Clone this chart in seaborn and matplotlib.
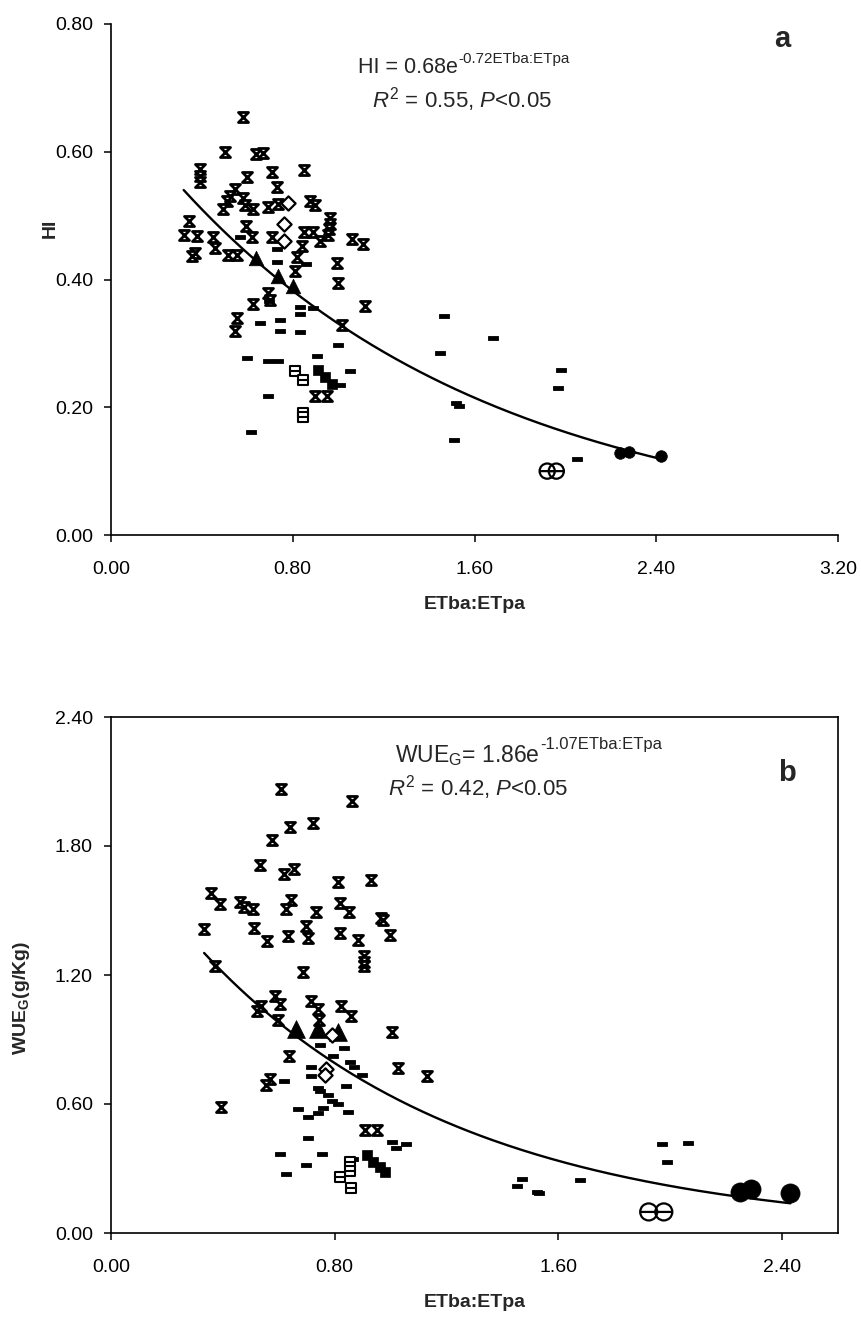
import numpy as np
import matplotlib
matplotlib.use("Agg")
import matplotlib.pyplot as plt
from matplotlib.path import Path
import matplotlib.transforms as mtransforms
import seaborn as sns

sns.set_style("ticks")
plt.rcParams['font.family'] = ['Liberation Sans', 'DejaVu Sans']
plt.rcParams['mathtext.fontset'] = 'custom'
plt.rcParams['mathtext.rm'] = 'Liberation Sans'
plt.rcParams['mathtext.it'] = 'Liberation Sans:italic'
plt.rcParams['mathtext.bf'] = 'Liberation Sans:bold'

# ---------------- Panel a data (ETba:ETpa vs HI) ----------------
a_x_x = [0.58, 0.50, 0.64, 0.67, 0.39, 0.39, 0.39, 0.60, 0.71, 0.85, 0.73,
         0.546, 0.524, 0.51, 0.495, 0.583, 0.59, 0.627, 0.69, 0.737, 0.874, 0.90,
         0.965, 0.965, 0.96, 0.957, 0.593, 0.345, 0.32, 0.377, 0.45, 0.458,
         0.37, 0.355, 0.517, 0.556, 0.62, 0.708, 0.85, 0.89, 0.92, 0.84,
         1.06, 1.11, 0.994, 1.00, 1.12, 0.627, 0.69, 0.70, 0.81, 0.818,
         1.016, 0.554, 0.546, 0.90, 0.95]
a_x_y = [0.654, 0.60, 0.597, 0.598, 0.573, 0.562, 0.552, 0.56, 0.569, 0.571, 0.545,
         0.542, 0.531, 0.523, 0.51, 0.528, 0.517, 0.51, 0.513, 0.518, 0.523, 0.516,
         0.497, 0.487, 0.479, 0.469, 0.483, 0.491, 0.47, 0.468, 0.467, 0.45,
         0.441, 0.4375, 0.439, 0.439, 0.466, 0.466, 0.474, 0.474, 0.461, 0.453,
         0.464, 0.456, 0.426, 0.394, 0.359, 0.361, 0.379, 0.368, 0.413, 0.435,
         0.328, 0.339, 0.32, 0.217, 0.217]
a_dash_x = [0.568, 0.73, 0.86, 0.73, 0.656, 0.744, 0.744, 0.833, 0.833, 0.89, 0.833, 0.697,
            0.997, 1.464, 1.45, 0.906, 0.598, 0.693, 0.737, 1.05, 1.01, 0.689, 0.617,
            1.68, 1.98, 1.966, 1.52, 1.53, 1.51, 2.05]
a_dash_y = [0.467, 0.448, 0.425, 0.428, 0.332, 0.336, 0.319, 0.318, 0.346, 0.356, 0.357, 0.366,
            0.297, 0.343, 0.285, 0.28, 0.277, 0.272, 0.272, 0.257, 0.235, 0.217, 0.161,
            0.308, 0.259, 0.23, 0.206, 0.202, 0.148, 0.119]
a_tri_x = [0.64, 0.735, 0.80]
a_tri_y = [0.433, 0.405, 0.39]
a_dia_x = [0.78, 0.76, 0.76]
a_dia_y = [0.52, 0.487, 0.46]
a_osq_x = [0.81, 0.844, 0.844, 0.844]
a_osq_y = [0.257, 0.242, 0.191, 0.184]
a_fsq_x = [0.91, 0.943, 0.972]
a_fsq_y = [0.259, 0.248, 0.237]
a_ocir_x = [1.92, 1.96]
a_ocir_y = [0.10, 0.10]
a_fcir_x = [2.24, 2.28, 2.42]
a_fcir_y = [0.128, 0.13, 0.123]
a_fit = (0.68, -0.72, 0.32, 2.43)   # coef, exponent, x-start, x-end

# ---------------- Panel b data (ETba:ETpa vs WUE_G) ----------------
b_x_x = [0.609, 0.863, 0.639, 0.723, 0.577, 0.532, 0.618, 0.653, 0.812, 0.929,
         0.358, 0.391, 0.462, 0.476, 0.508, 0.645, 0.627, 0.732, 0.818, 0.851,
         0.965, 0.974, 0.998, 0.331, 0.51, 0.558, 0.633, 0.699, 0.703, 0.818, 0.882,
         0.904, 0.904, 0.904, 0.373, 0.686,
         0.585, 0.603, 0.523, 0.538, 0.714, 0.741, 0.824, 0.858, 0.597, 0.743,
         1.004, 1.025, 1.129, 0.637, 0.567, 0.556, 0.394, 0.91, 0.953]
b_x_y = [2.064, 2.009, 1.888, 1.907, 1.829, 1.71, 1.671, 1.692, 1.633, 1.64,
         1.583, 1.532, 1.54, 1.516, 1.509, 1.547, 1.506, 1.493, 1.535, 1.493,
         1.467, 1.454, 1.385, 1.415, 1.42, 1.358, 1.383, 1.427, 1.374, 1.395, 1.361,
         1.288, 1.26, 1.242, 1.242, 1.214,
         1.101, 1.067, 1.031, 1.054, 1.079, 1.043, 1.056, 1.008, 0.992, 0.99,
         0.935, 0.769, 0.73, 0.822, 0.718, 0.687, 0.586, 0.48, 0.478]
b_dash_x = [0.747, 0.834, 0.794, 0.714, 0.714, 0.854, 0.87, 0.898, 0.84, 0.741, 0.747,
            0.777, 0.789, 0.812, 0.759, 0.741, 0.667, 0.705, 0.846, 0.705, 0.603, 0.753,
            0.699, 0.627, 1.004, 1.054, 1.018, 0.866, 0.619,
            1.47, 1.452, 1.523, 1.53, 1.679, 1.971, 2.063, 1.987]
b_dash_y = [0.873, 0.862, 0.822, 0.772, 0.729, 0.795, 0.772, 0.733, 0.682, 0.676, 0.66,
            0.641, 0.614, 0.601, 0.583, 0.558, 0.577, 0.54, 0.563, 0.443, 0.366, 0.366,
            0.315, 0.273, 0.423, 0.415, 0.397, 0.346, 0.707,
            0.253, 0.217, 0.191, 0.186, 0.245, 0.415, 0.419, 0.33]
b_tri_x = [0.663, 0.741, 0.812]
b_tri_y = [0.95, 0.95, 0.935]
b_dia_x = [0.789, 0.77, 0.765]
b_dia_y = [0.92, 0.764, 0.735]
b_osq_x = [0.854, 0.854, 0.818, 0.858]
b_osq_y = [0.33, 0.29, 0.26, 0.21]
b_fsq_x = [0.914, 0.938, 0.962, 0.98]
b_fsq_y = [0.361, 0.33, 0.307, 0.284]
b_ocir_x = [1.923, 1.977]
b_ocir_y = [0.098, 0.098]
b_fcir_x = [2.248, 2.288, 2.428]
b_fcir_y = [0.19, 0.206, 0.186]
b_fit = (1.86, -1.07, 0.333, 2.43)

# ---------------- custom marker shapes ----------------
M, L, C = Path.MOVETO, Path.LINETO, Path.CLOSEPOLY
hourglass = Path([(-1, 1), (1, 1), (-1, -1), (1, -1), (-1, 1)], [M, L, L, L, C])
dash = Path([(-1, -0.34), (1, -0.34), (1, 0.34), (-1, 0.34), (-1, -0.34)], [M, L, L, L, C])
diamond = Path([(0, 1), (1, 0), (0, -1), (-1, 0), (0, 1)], [M, L, L, L, C])
sq_line = Path([(-1, -0.85), (1, -0.85), (1, 0.85), (-1, 0.85), (-1, -0.85), (-1, 0), (1, 0)],
               [M, L, L, L, C, M, L])
circ_line = Path.make_compound_path(Path.unit_circle(), Path([(-1, 0), (1, 0)], [M, L]))

fig = plt.figure(figsize=(8.61, 13.28), dpi=100)
ax_a = fig.add_axes([111/861, 1-535/1328, 727/861, 511/1328])
ax_b = fig.add_axes([111/861, 1-1233/1328, 727/861, 516/1328])


def draw(ax, d, big):
    sc = sns.scatterplot
    sc(x=d['x'][0], y=d['x'][1], ax=ax, marker=hourglass, s=52,
       facecolor='white', edgecolor='black', linewidth=2.0, zorder=3)
    sc(x=d['dash'][0], y=d['dash'][1], ax=ax, marker=dash, s=52,
       facecolor='black', edgecolor='black', linewidth=0.6, zorder=3)
    sc(x=d['tri'][0], y=d['tri'][1], ax=ax, marker='^', s=165 if big else 110,
       facecolor='black', edgecolor='black', linewidth=0.5, zorder=4)
    sc(x=d['dia'][0], y=d['dia'][1], ax=ax, marker=diamond, s=105,
       facecolor='white', edgecolor='black', linewidth=1.6, zorder=4)
    sc(x=d['osq'][0], y=d['osq'][1], ax=ax, marker=sq_line, s=60,
       facecolor='white', edgecolor='black', linewidth=1.5, zorder=4)
    sc(x=d['fsq'][0], y=d['fsq'][1], ax=ax, marker='s', s=50,
       facecolor='black', edgecolor='black', linewidth=0.5, zorder=4)
    sc(x=d['ocir'][0], y=d['ocir'][1], ax=ax, marker=circ_line, s=150 if big else 120,
       facecolor='none', edgecolor='black', linewidth=1.6, zorder=4)
    sc(x=d['fcir'][0], y=d['fcir'][1], ax=ax, marker='o', s=190 if big else 70,
       facecolor='black', edgecolor='black', linewidth=0.5, zorder=4)
    k, r, x0, x1 = d['fit']
    xs = np.linspace(x0, x1, 200)
    sns.lineplot(x=xs, y=k * np.exp(r * xs), ax=ax, color='black', linewidth=1.7, zorder=5)


draw(ax_a, {'x': (a_x_x, a_x_y), 'dash': (a_dash_x, a_dash_y), 'tri': (a_tri_x, a_tri_y),
            'dia': (a_dia_x, a_dia_y), 'osq': (a_osq_x, a_osq_y), 'fsq': (a_fsq_x, a_fsq_y),
            'ocir': (a_ocir_x, a_ocir_y), 'fcir': (a_fcir_x, a_fcir_y), 'fit': a_fit}, False)
draw(ax_b, {'x': (b_x_x, b_x_y), 'dash': (b_dash_x, b_dash_y), 'tri': (b_tri_x, b_tri_y),
            'dia': (b_dia_x, b_dia_y), 'osq': (b_osq_x, b_osq_y), 'fsq': (b_fsq_x, b_fsq_y),
            'ocir': (b_ocir_x, b_ocir_y), 'fcir': (b_fcir_x, b_fcir_y), 'fit': b_fit}, True)

# ---------------- axes styling ----------------
a_xticks = [0.0, 0.8, 1.6, 2.4, 3.2]
a_yticks = [0.0, 0.2, 0.4, 0.6, 0.8]
b_xticks = [0.0, 0.8, 1.6, 2.4]
b_yticks = [0.0, 0.6, 1.2, 1.8, 2.4]

for ax, xt, yt, xl, yl in [(ax_a, a_xticks, a_yticks, (0, 3.2), (0, 0.8)),
                           (ax_b, b_xticks, b_yticks, (0, 2.6), (0, 2.4))]:
    ax.set_xlim(*xl)
    ax.set_ylim(*yl)
    ax.set_xticks(xt)
    ax.set_yticks(yt)
    ax.set_xticklabels([f"{v:.2f}" for v in xt])
    ax.set_yticklabels([f"{v:.2f}" for v in yt])
    ax.tick_params(direction='out', length=5, width=1.1, labelsize=14, colors='black')
    ax.tick_params(axis='x', pad=14)
    ax.tick_params(axis='y', pad=8)
    for s in ax.spines.values():
        s.set_linewidth(1.2)
        s.set_color('black')
    ax.set_xlabel('ETba:ETpa', fontsize=14, fontweight='bold', labelpad=13)
    ax.set_facecolor('white')

ax_a.spines['top'].set_visible(False)
ax_a.spines['right'].set_visible(False)
ax_a.set_ylabel('HI', fontsize=14, fontweight='bold')
ax_a.yaxis.set_label_coords(-0.072, 0.60)
ax_b.set_ylabel(r'WUE$_{\mathbf{G}}$(g/Kg)', fontsize=14, fontweight='bold')
ax_b.yaxis.set_label_coords(-0.108, 0.456)


def equation(ax, x, y, main, sup, fs_main, fs_sup, rise):
    ax.text(x, y, main, transform=ax.transAxes, ha='right', va='baseline', fontsize=fs_main)
    tr = mtransforms.offset_copy(ax.transAxes, fig=fig, x=0.5, y=rise, units='points')
    ax.text(x, y, sup, transform=tr, ha='left', va='baseline', fontsize=fs_sup)


equation(ax_a, 0.477, 0.904, 'HI = 0.68e', '-0.72ETba:ETpa', 15.5, 11, 7.5)
ax_a.text(0.483, 0.836, r'$R^2$ = 0.55, $P$<0.05', transform=ax_a.transAxes,
          ha='center', va='baseline', fontsize=16)
ax_a.text(0.924, 0.97, 'a', transform=ax_a.transAxes, ha='center', va='center',
          fontsize=21, fontweight='bold')

equation(ax_b, 0.590, 0.913, r'WUE$_{\mathrm{G}}$= 1.86e', '-1.07ETba:ETpa', 16.5, 12, 9.5)
ax_b.text(0.505, 0.847, r'$R^2$ = 0.42, $P$<0.05', transform=ax_b.transAxes,
          ha='center', va='baseline', fontsize=16)
ax_b.text(0.93, 0.891, 'b', transform=ax_b.transAxes, ha='center', va='center',
          fontsize=21, fontweight='bold')

fig.savefig('out.png', dpi=100, facecolor='white')
